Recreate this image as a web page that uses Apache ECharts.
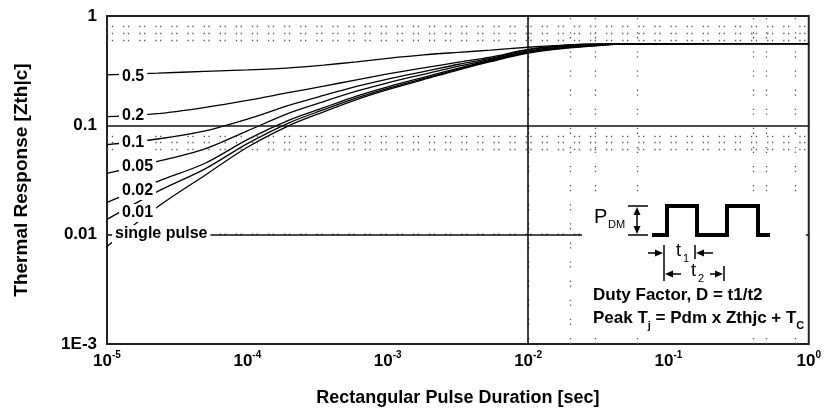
<!DOCTYPE html>
<html><head><meta charset="utf-8">
<script src="https://cdn.jsdelivr.net/npm/echarts@6/dist/echarts.min.js"></script>
<style>html,body{margin:0;padding:0;background:#fff}#c{width:824px;height:413px}</style>
</head><body><div id="c"></div>
<script>
// ---- data ----
const pulseDurations = [1e-5, 2.3e-5, 5e-5, 1e-4, 2e-4, 3.5e-4, 6e-4, 1e-3, 1.8e-3, 3.2e-3, 5.4e-3, 1e-2, 1.9e-2, 3.2e-2, 5e-2, 1];
const curveLabels = ['0.5', '0.2', '0.1', '0.05', '0.02', '0.01', 'single pulse'];
const zthD050 = [0.29, 0.30, 0.312, 0.322, 0.336, 0.356, 0.381, 0.41, 0.441, 0.465, 0.487, 0.518, 0.545, 0.555, 0.556, 0.56];
const zthD020 = [0.12, 0.128, 0.146, 0.169, 0.200, 0.228, 0.261, 0.295, 0.335, 0.378, 0.42, 0.495, 0.54, 0.553, 0.556, 0.56];
const zthD010 = [0.0667, 0.075, 0.089, 0.114, 0.153, 0.188, 0.227, 0.265, 0.31, 0.362, 0.41, 0.49, 0.535, 0.55, 0.556, 0.56];
const zthD005 = [0.0363, 0.0467, 0.061, 0.089, 0.130, 0.165, 0.205, 0.245, 0.293, 0.348, 0.40, 0.48, 0.528, 0.547, 0.556, 0.56];
const zthD002 = [0.0197, 0.0307, 0.045, 0.074, 0.112, 0.145, 0.185, 0.225, 0.275, 0.333, 0.393, 0.472, 0.52, 0.543, 0.556, 0.56];
const zthD001 = [0.0138, 0.0249, 0.040, 0.068, 0.106, 0.139, 0.178, 0.218, 0.268, 0.327, 0.388, 0.466, 0.515, 0.54, 0.556, 0.56];
const zthSingle = [0.0078, 0.018, 0.035, 0.063, 0.100, 0.133, 0.172, 0.212, 0.262, 0.322, 0.382, 0.458, 0.508, 0.537, 0.556, 0.56];
const xTickExponents = ['-5', '-4', '-3', '-2', '-1', '0'];
const yTickLabels = ['1E-3', '0.01', '0.1', '1'];
const vGridDotted = [3e-5, 7e-5, 9e-5, 2e-4, 4e-4, 6e-4, 8e-3, 9e-3, 2e-2, 3e-2, 6e-2, 4e-1, 5e-1, 8e-1];
const hGridDotted = [0.8, 0.7, 0.6, 0.08, 0.07, 0.06, 0.009, 0.008, 0.002];
const vGridSolid = [1e-2];
const hGridSolid = [0.1, 0.01];

// ---- chart ----
const FONT = '"Liberation Sans", Arial, sans-serif';
const chart = echarts.init(document.getElementById('c'), null, {renderer: 'canvas'});
const curves = [zthD050, zthD020, zthD010, zthD005, zthD002, zthD001, zthSingle];

const series = curves.map((vals, i) => ({
  type: 'line', name: curveLabels[i],
  data: pulseDurations.map((t, j) => [t, vals[j]]),
  showSymbol: false, symbol: 'none', smooth: 0.3, silent: true, z: 3,
  lineStyle: {color: '#000', width: 1.3}
}));

const mlData = [];
vGridDotted.forEach(v => mlData.push({xAxis: v, lineStyle: {color: '#555', width: 1.3, type: [1.3, 3.5, 1.3, 13]}}));
hGridDotted.forEach(v => mlData.push({yAxis: v, lineStyle: {color: '#555', width: 1.3, type: [1.3, 3.5, 1.3, 10]}}));
vGridSolid.forEach(v => mlData.push({xAxis: v, lineStyle: {color: '#111', width: 1.6, type: 'solid'}}));
hGridSolid.forEach(v => mlData.push({yAxis: v, lineStyle: {color: '#111', width: 1.6, type: 'solid'}}));
series.push({
  type: 'line', data: [], z: 1, silent: true,
  markLine: {silent: true, symbol: ['none', 'none'], label: {show: false}, animation: false, data: mlData}
});

function arrowHead(x, y, dir) {
  const L = 8, W = 3.5;
  let pts;
  if (dir === 'right') pts = [[x, y], [x - L, y - W], [x - L, y + W]];
  else if (dir === 'left') pts = [[x, y], [x + L, y - W], [x + L, y + W]];
  else if (dir === 'up') pts = [[x, y], [x - W, y + L], [x + W, y + L]];
  else pts = [[x, y], [x - W, y - L], [x + W, y - L]];
  return {type: 'polygon', z: 70, shape: {points: pts}, style: {fill: '#000'}};
}
function seg(x1, y1, x2, y2, w) {
  return {type: 'line', z: 70, shape: {x1, y1, x2, y2}, style: {stroke: '#000', lineWidth: w || 1.5}};
}
function txt(x, y, text, font, extra) {
  return {type: 'text', z: 80, x, y, style: Object.assign({text, font, fill: '#000', align: 'left', verticalAlign: 'middle'}, extra || {})};
}

const labelPos = [[119, 77], [119, 116], [119, 143], [119, 167], [119, 191], [119, 213], [112, 234]];
const graphics = [];
curveLabels.forEach((l, i) => {
  graphics.push(txt(labelPos[i][0], labelPos[i][1], l, 'bold 16px ' + FONT, {backgroundColor: '#fff', padding: [1, 3, 1, 3]}));
});
// inset box
graphics.push({type: 'rect', z: 50, shape: {x: 582, y: 203, width: 224, height: 130}, style: {fill: '#fff'}});
graphics.push({type: 'polyline', z: 70, shape: {points: [[652, 235], [667, 235], [667, 206], [697, 206], [697, 235], [727, 235], [727, 206], [758, 206], [758, 235], [770, 235]]},
  style: {stroke: '#000', lineWidth: 4, fill: null, lineJoin: 'miter'}});
// P_DM
graphics.push(seg(628, 206, 648, 206), seg(628, 235, 648, 235), seg(637, 212, 637, 229));
graphics.push(arrowHead(637, 207, 'up'), arrowHead(637, 234, 'down'));
graphics.push(txt(594, 217, 'P', '20px ' + FONT), txt(608, 225, 'DM', '11px ' + FONT));
// t1 / t2
graphics.push(seg(664, 245, 664, 281), seg(695, 245, 695, 259), seg(724, 266, 724, 281));
graphics.push(seg(648, 253, 657, 253), arrowHead(663, 253, 'right'));
graphics.push(seg(704, 253, 713, 253), arrowHead(696, 253, 'left'));
graphics.push(seg(672, 274, 681, 274), arrowHead(665, 274, 'left'));
graphics.push(seg(710, 274, 716, 274), arrowHead(723, 274, 'right'));
graphics.push(txt(676, 251, 't', '18px ' + FONT), txt(683, 259, '1', '11px ' + FONT));
graphics.push(txt(691, 271, 't', '18px ' + FONT), txt(698, 279, '2', '11px ' + FONT));
graphics.push(txt(593, 295, 'Duty Factor, D = t1/t2', 'bold 17px ' + FONT));
graphics.push({type: 'text', z: 80, x: 593, y: 318, style: {
  text: '{a|Peak T}{s|j}{a| = Pdm x Zthjc + T}{s|C}', align: 'left', verticalAlign: 'middle',
  rich: {
    a: {font: 'bold 17px ' + FONT, fill: '#000', lineHeight: 20},
    s: {font: 'bold 11px ' + FONT, fill: '#000', lineHeight: 11, verticalAlign: 'bottom', padding: [0, 0, -3, 0]}
  }}});

const option = {
  animation: false,
  backgroundColor: '#fff',
  grid: {left: 107, right: 15, top: 16, bottom: 69, show: true, borderColor: '#222', borderWidth: 2, backgroundColor: 'transparent'},
  xAxis: {
    type: 'log', logBase: 10, min: 1e-5, max: 1,
    name: 'Rectangular Pulse Duration [sec]', nameLocation: 'middle', nameGap: 45,
    nameTextStyle: {fontFamily: FONT, fontWeight: 'bold', fontSize: 18, color: '#000'},
    axisLine: {show: false}, axisTick: {show: false}, splitLine: {show: false}, minorTick: {show: false},
    axisLabel: {
      margin: 6, color: '#000',
      formatter: v => '{b|10}{s|' + xTickExponents[Math.round(Math.log10(v)) + 5] + '}',
      rich: {
        b: {fontFamily: FONT, fontWeight: 'bold', fontSize: 17, lineHeight: 22, color: '#000'},
        s: {fontFamily: FONT, fontWeight: 'bold', fontSize: 10, lineHeight: 10, verticalAlign: 'top', color: '#000'}
      }
    }
  },
  yAxis: {
    type: 'log', logBase: 10, min: 1e-3, max: 1,
    name: 'Thermal Response [Zth|c]', nameLocation: 'middle', nameGap: 76,
    nameTextStyle: {fontFamily: FONT, fontWeight: 'bold', fontSize: 19, color: '#000'},
    axisLine: {show: false}, axisTick: {show: false}, splitLine: {show: false},
    axisLabel: {
      margin: 10, color: '#000', fontFamily: FONT, fontWeight: 'bold', fontSize: 17,
      formatter: v => yTickLabels[Math.round(Math.log10(v)) + 3]
    }
  },
  series: series,
  graphic: {elements: graphics}
};
chart.setOption(option);
</script>
</body></html>
